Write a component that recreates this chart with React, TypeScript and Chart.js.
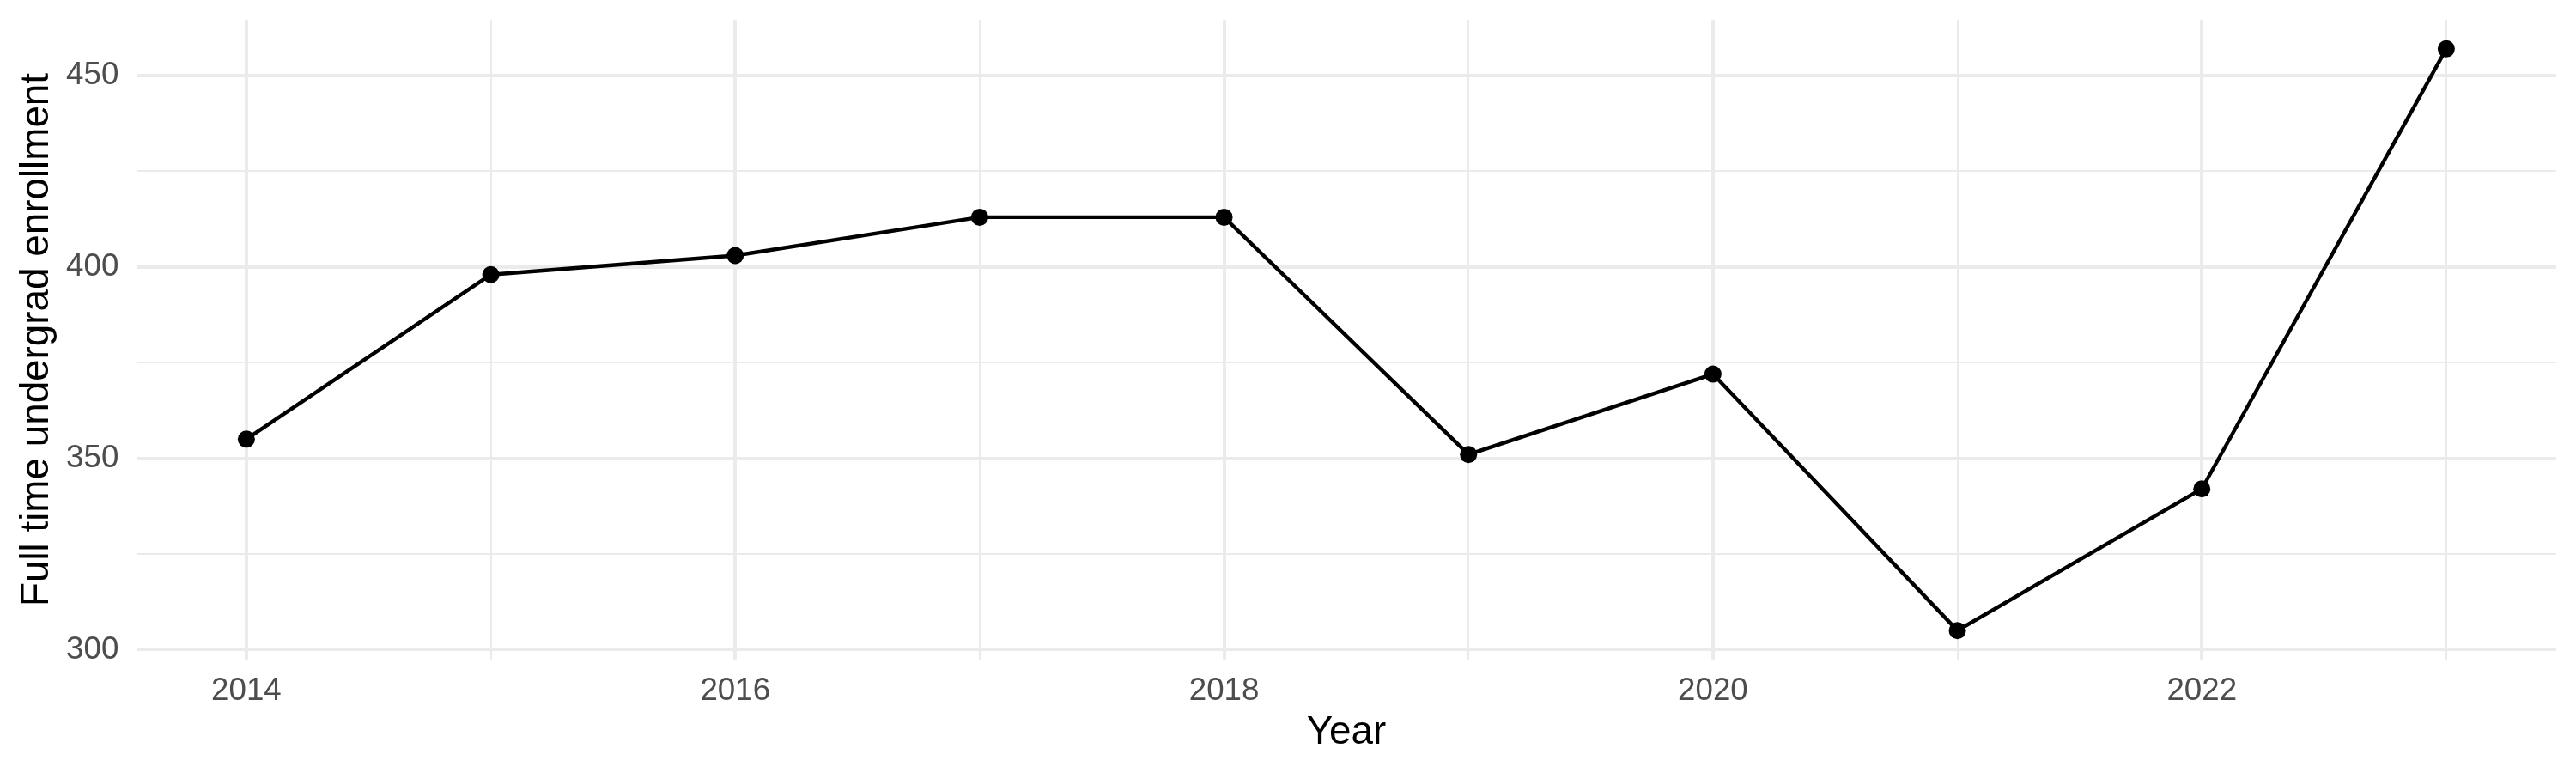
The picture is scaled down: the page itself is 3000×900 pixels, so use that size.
import React, { useEffect, useRef } from "react";
import { Chart, registerables } from "chart.js";

Chart.register(...registerables);

const years = [2014, 2015, 2016, 2017, 2018, 2019, 2020, 2021, 2022, 2023];
const enrollment = [355, 398, 403, 413, 413, 351, 372, 305, 342, 457];

const xTickValues = [2014, 2015, 2016, 2017, 2018, 2019, 2020, 2021, 2022, 2023];
const xTickLabels = ["2014", "", "2016", "", "2018", "", "2020", "", "2022", ""];
const yTickValues = [300, 325, 350, 375, 400, 425, 450];
const yTickLabels = ["300", "", "350", "", "400", "", "450"];

const xTitle = "Year";
const yTitle = "Full time undergrad enrollment";

const FONT = "'Liberation Sans', Arial, Helvetica, sans-serif";
const GRID = "#EBEBEB";
const TICK_COLOR = "#4D4D4D";

function expand(vals: number[]) {
  const lo = Math.min(...vals);
  const hi = Math.max(...vals);
  const r = hi - lo;
  return [lo - 0.05 * r, hi + 0.05 * r];
}

export default function App() {
  const ref = useRef<HTMLCanvasElement | null>(null);

  useEffect(() => {
    document.body.style.margin = "0";
    document.body.style.overflow = "hidden";
    const canvas = ref.current;
    if (!canvas) return;
    const [xMin, xMax] = expand(years);
    const [yMin, yMax] = expand(enrollment);

    const xLabel = (v: number) => {
      const i = xTickValues.indexOf(Math.round(v));
      return i >= 0 ? xTickLabels[i] : "";
    };
    const yLabel = (v: number) => {
      const i = yTickValues.indexOf(Math.round(v));
      return i >= 0 ? yTickLabels[i] : "";
    };

    const chart = new Chart(canvas, {
      type: "line",
      data: {
        datasets: [
          {
            data: years.map((y, i) => ({ x: y, y: enrollment[i] })),
            borderColor: "#000000",
            backgroundColor: "#000000",
            borderWidth: 4.4,
            tension: 0,
            pointRadius: 10,
            pointHoverRadius: 10,
            pointBorderWidth: 0,
            pointBackgroundColor: "#000000",
            fill: false,
          },
        ],
      },
      options: {
        responsive: false,
        animation: false,
        devicePixelRatio: 1,
        layout: { padding: { top: 23, right: 23, left: 0, bottom: 0 } },
        plugins: {
          legend: { display: false },
          tooltip: { enabled: false },
          title: { display: false },
        },
        scales: {
          x: {
            type: "linear",
            min: xMin,
            max: xMax,
            afterBuildTicks: (scale: any) => {
              scale.ticks = xTickValues.map((v) => ({ value: v }));
            },
            afterFit: (scale: any) => {
              scale.height = 132;
              scale.paddingLeft = 0;
              scale.paddingRight = 0;
              scale.paddingTop = 0;
              scale.paddingBottom = 0;
            },
            border: { display: false },
            grid: {
              color: GRID,
              drawTicks: false,
              lineWidth: (ctx: any) => (ctx.tick && xLabel(ctx.tick.value) ? 4 : 2),
            },
            ticks: {
              autoSkip: false,
              maxRotation: 0,
              padding: 14.6,
              color: TICK_COLOR,
              font: { family: FONT, size: 36.7 },
              callback: (v: any) => xLabel(Number(v)),
            },
            title: {
              display: true,
              text: xTitle,
              color: "#000000",
              font: { family: FONT, size: 45.8 },
              padding: { top: 19.5, bottom: 19.5 },
            },
          },
          y: {
            type: "linear",
            min: yMin,
            max: yMax,
            afterBuildTicks: (scale: any) => {
              scale.ticks = yTickValues.map((v) => ({ value: v }));
            },
            afterFit: (scale: any) => {
              scale.width = 158.8;
              scale.paddingLeft = 0;
              scale.paddingRight = 0;
              scale.paddingTop = 0;
              scale.paddingBottom = 0;
            },
            border: { display: false },
            grid: {
              color: GRID,
              drawTicks: false,
              lineWidth: (ctx: any) => (ctx.tick && yLabel(ctx.tick.value) ? 4 : 2),
            },
            ticks: {
              autoSkip: false,
              padding: 20.5,
              color: TICK_COLOR,
              font: { family: FONT, size: 36.7 },
              callback: (v: any) => yLabel(Number(v)),
            },
            title: {
              display: true,
              text: yTitle,
              color: "#000000",
              font: { family: FONT, size: 45.8 },
              padding: { top: 15.5, bottom: 15.5 },
            },
          },
        },
      },
    } as any);

    return () => chart.destroy();
  }, []);

  return (
    <div style={{ width: 3000, height: 900, background: "#ffffff" }}>
      <canvas ref={ref} width={3000} height={900} style={{ display: "block", width: 3000, height: 900 }} />
    </div>
  );
}
